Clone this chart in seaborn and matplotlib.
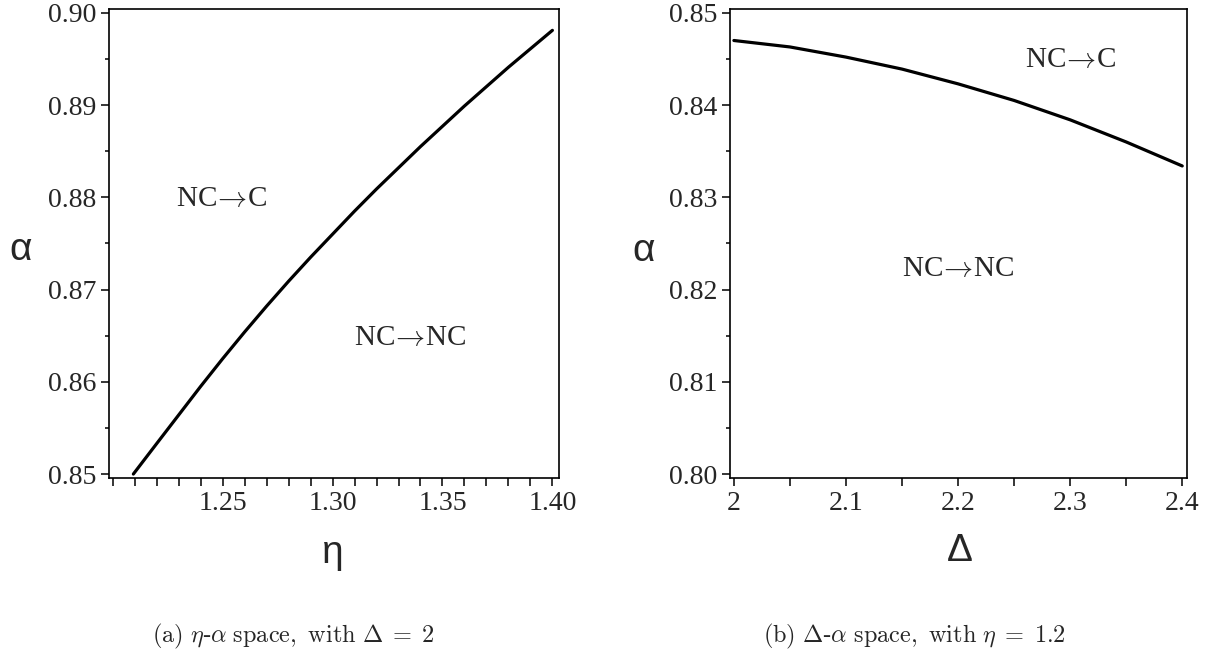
import numpy as np
import pandas as pd
import matplotlib
matplotlib.use("Agg")
import matplotlib.pyplot as plt
from matplotlib.ticker import MultipleLocator, FormatStrFormatter, FuncFormatter
import seaborn as sns

# boundary curve, panel (a): eta vs alpha with Delta = 2
eta_a = [1.2094, 1.22, 1.23, 1.24, 1.25, 1.26, 1.27, 1.28, 1.29, 1.30,
         1.31, 1.32, 1.33, 1.34, 1.35, 1.36, 1.37, 1.38, 1.39, 1.40]
alpha_a = [0.8500, 0.8533, 0.8564, 0.8595, 0.8625, 0.8654, 0.8682, 0.8709, 0.8735, 0.8760,
           0.8785, 0.8809, 0.8832, 0.8855, 0.8877, 0.8899, 0.8920, 0.8941, 0.8961, 0.8981]

# boundary curve, panel (b): Delta vs alpha with eta = 1.2
delta_b = [2.00, 2.05, 2.10, 2.15, 2.20, 2.25, 2.30, 2.35, 2.40]
alpha_b = [0.8470, 0.8463, 0.8452, 0.8439, 0.8423, 0.8405, 0.8384, 0.8360, 0.8334]

df_a = pd.DataFrame({"eta": eta_a, "alpha": alpha_a})
df_b = pd.DataFrame({"delta": delta_b, "alpha": alpha_b})

sns.set_style("ticks")
plt.rcParams["font.family"] = ["Liberation Serif", "DejaVu Serif"]
plt.rcParams["mathtext.fontset"] = "cm"

fig = plt.figure(figsize=(12.16, 6.55), dpi=100)
ax1 = fig.add_axes([0.0896, 0.2702, 0.3701, 0.7160])
ax2 = fig.add_axes([0.6003, 0.2702, 0.3758, 0.7160])

sns.lineplot(data=df_a, x="eta", y="alpha", ax=ax1, color="black", linewidth=2.3)
sns.lineplot(data=df_b, x="delta", y="alpha", ax=ax2, color="black", linewidth=2.3)

ax1.set_xlim(1.1983, 1.403)
ax1.set_ylim(0.84957, 0.90041)
ax2.set_xlim(1.9965, 2.4042)
ax2.set_ylim(0.79957, 0.85041)

ax1.xaxis.set_major_locator(MultipleLocator(0.05))
ax1.xaxis.set_minor_locator(MultipleLocator(0.01))
ax1.xaxis.set_major_formatter(FuncFormatter(lambda v, p: "" if v < 1.22 else "%.2f" % v))
ax2.xaxis.set_major_locator(MultipleLocator(0.1))
ax2.xaxis.set_minor_locator(MultipleLocator(0.05))
ax2.xaxis.set_major_formatter(FuncFormatter(lambda v, p: "%g" % round(v, 2)))

for ax in (ax1, ax2):
    ax.yaxis.set_major_locator(MultipleLocator(0.01))
    ax.yaxis.set_minor_locator(MultipleLocator(0.005))
    ax.yaxis.set_major_formatter(FormatStrFormatter("%.2f"))
    ax.tick_params(axis="both", which="major", labelsize=20, length=6, width=1.1,
                   direction="out", color="black", pad=3)
    ax.tick_params(axis="x", which="minor", length=6, width=1.1, color="black")
    ax.tick_params(axis="y", which="minor", length=3, width=1.1, color="black")
    for s in ax.spines.values():
        s.set_visible(True)
        s.set_linewidth(1.2)
        s.set_color("black")
    ax.grid(False)

ax1.set_xlabel("η", fontsize=28, family="Liberation Sans", va="center")
ax1.set_ylabel("α", fontsize=28, family="Liberation Sans", rotation=0, ha="center", va="center")
ax1.xaxis.set_label_coords(0.498, -0.16)
ax1.yaxis.set_label_coords(-0.196, 0.486)

ax2.set_xlabel("Δ", fontsize=28, family="Liberation Sans", va="center")
ax2.set_ylabel("α", fontsize=28, family="Liberation Sans", rotation=0, ha="center", va="center")
ax2.xaxis.set_label_coords(0.503, -0.156)
ax2.yaxis.set_label_coords(-0.190, 0.484)

arrow_c = r"NC$\!\rightarrow\!$C"
arrow_nc = r"NC$\!\rightarrow\!$NC"
ax1.text(1.2495, 0.8798, arrow_c, fontsize=21, ha="center", va="center")
ax1.text(1.3351, 0.8648, arrow_nc, fontsize=21, ha="center", va="center")
ax2.text(2.30, 0.84487, arrow_c, fontsize=21, ha="center", va="center")
ax2.text(2.20, 0.82222, arrow_nc, fontsize=21, ha="center", va="center")

fig.text(293 / 1216, 1 - 636 / 655,
         r"$\mathrm{(a)}\ \eta$-$\alpha\ \mathrm{space,\ with}\ \Delta\;=\;2$",
         fontsize=17.5, ha="center", va="center")
fig.text(914 / 1216, 1 - 636 / 655,
         r"$\mathrm{(b)}\ \Delta$-$\alpha\ \mathrm{space,\ with}\ \eta\;=\;1.2$",
         fontsize=17.5, ha="center", va="center")

fig.savefig("out.png", dpi=100)
